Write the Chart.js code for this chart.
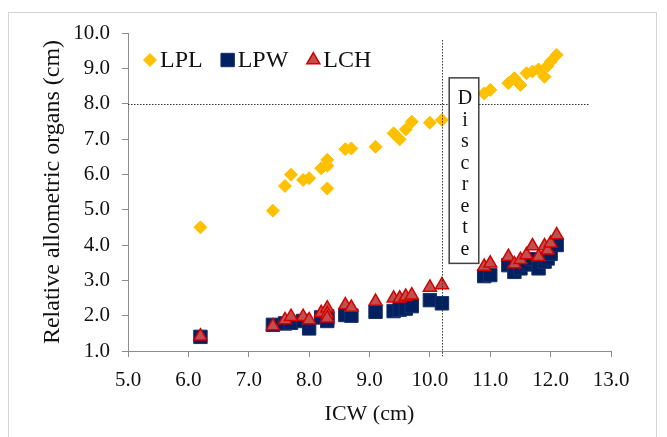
<!DOCTYPE html>
<html>
<head>
<meta charset="utf-8">
<title>ICW - relative allometric organs</title>
<script src="https://cdn.jsdelivr.net/npm/chart.js@4.4.0/dist/chart.umd.min.js"></script>
<style>
	body { margin: 0; background: #fff; }
	canvas { display: block; }
</style>
</head>
<body>
<canvas id="myChart" width="667" height="437"></canvas>
<script>
// values
const icw = [6.2, 7.4, 7.6, 7.7, 7.9, 8.0, 8.2, 8.3, 8.3, 8.3, 8.6, 8.7, 9.1, 9.4, 9.5, 9.6, 9.7, 10.0, 10.2, 10.9, 11.0, 11.3, 11.4, 11.5, 11.6, 11.7, 11.8, 11.9, 11.95, 12.0, 12.1];
const lpl = [4.50, 4.97, 5.67, 5.99, 5.84, 5.89, 6.17, 6.41, 6.24, 5.60, 6.71, 6.73, 6.78, 7.16, 6.99, 7.27, 7.49, 7.46, 7.54, 8.29, 8.39, 8.58, 8.72, 8.53, 8.86, 8.91, 8.97, 8.76, 9.07, 9.19, 9.38];
const lpw = [1.40, 1.74, 1.78, 1.80, 1.85, 1.64, 1.95, 1.92, 1.98, 1.85, 2.02, 2.00, 2.11, 2.13, 2.17, 2.20, 2.27, 2.44, 2.35, 3.12, 3.15, 3.43, 3.24, 3.34, 3.45, 3.60, 3.34, 3.53, 3.62, 3.75, 4.00];
const lch = [1.42, 1.71, 1.88, 1.97, 1.97, 1.88, 2.08, 2.21, 2.05, 1.93, 2.30, 2.23, 2.40, 2.49, 2.49, 2.54, 2.58, 2.80, 2.87, 3.39, 3.48, 3.67, 3.46, 3.58, 3.72, 3.97, 3.67, 3.97, 3.85, 4.05, 4.28];
const seriesNames = ["LPL", "LPW", "LCH"];
const xTicks = [5, 6, 7, 8, 9, 10, 11, 12, 13];
const yTicks = [1, 2, 3, 4, 5, 6, 7, 8, 9, 10];
const discreteLabel = "Discrete";

const pts = (ys) => icw.map((x, i) => ({ x: x, y: ys[i] }));

Chart.defaults.font.family = "'Liberation Serif', 'Times New Roman', serif";
Chart.defaults.color = "#111";

// ramka, przerywane linie, pole "Discrete" i legenda
const extras = {
	id: "extras",
	beforeDraw(chart) {
		const c = chart.ctx;
		c.save();
		c.strokeStyle = "#d4d4d4";
		c.lineWidth = 1;
		c.strokeRect(8.5, 12.5, 648, 440);
		c.restore();
	},
	afterDatasetsDraw(chart) {
		const c = chart.ctx, xs = chart.scales.x, ys = chart.scales.y;
		c.save();
		c.strokeStyle = "#333";
		c.lineWidth = 1;
		c.setLineDash([1.5, 1.5]);
		c.beginPath();
		c.moveTo(xs.getPixelForValue(5), Math.round(ys.getPixelForValue(8)) + 0.5);
		c.lineTo(xs.getPixelForValue(12.63), Math.round(ys.getPixelForValue(8)) + 0.5);
		c.moveTo(Math.round(xs.getPixelForValue(10.2)) + 0.5, ys.getPixelForValue(9.8));
		c.lineTo(Math.round(xs.getPixelForValue(10.2)) + 0.5, ys.getPixelForValue(0.85));
		c.stroke();
		c.setLineDash([]);
		// pole Discrete
		const bx0 = xs.getPixelForValue(10.32), bx1 = xs.getPixelForValue(10.81);
		const by0 = ys.getPixelForValue(8.73), by1 = ys.getPixelForValue(3.48);
		c.fillStyle = "#fff";
		c.fillRect(bx0, by0, bx1 - bx0, by1 - by0);
		c.strokeStyle = "#404040";
		c.lineWidth = 1.5;
		c.strokeRect(bx0, by0, bx1 - bx0, by1 - by0);
		c.fillStyle = "#111";
		c.font = "20px 'Liberation Serif'";
		c.textAlign = "center";
		c.textBaseline = "middle";
		const cx = (bx0 + bx1) / 2 + 1;
		for (let i = 0; i < discreteLabel.length; i++) {
			c.fillText(discreteLabel[i], cx, by0 + 21 + i * 21.5);
		}
		// legenda
		c.font = "24px 'Liberation Serif'";
		c.textAlign = "left";
		let lx = 150;
		const ly = 60;
		chart.data.datasets.forEach((ds) => {
			c.fillStyle = ds.backgroundColor;
			c.strokeStyle = ds.borderColor;
			c.lineWidth = ds.borderWidth;
			Chart.helpers.drawPoint(c, { pointStyle: ds.pointStyle, radius: ds.pointRadius, rotation: 0, borderWidth: ds.borderWidth }, lx, ly);
			c.fillStyle = "#111";
			c.fillText(ds.label, lx + 10, ly + 1);
			lx += 10 + c.measureText(ds.label).width + 25;
		});
		c.restore();
	}
};

new Chart(document.getElementById("myChart").getContext("2d"), {
	type: "scatter",
	data: {
		datasets: [{
			label: seriesNames[0],
			data: pts(lpl),
			pointStyle: "rectRot",
			pointRadius: 6.5,
			backgroundColor: "#FFC000",
			borderColor: "#FFC000",
			borderWidth: 1,
			order: 2
		}, {
			label: seriesNames[1],
			data: pts(lpw),
			pointStyle: "rect",
			pointRadius: 9.5,
			backgroundColor: "#002060",
			borderColor: "#17306b",
			borderWidth: 1,
			order: 1
		}, {
			label: seriesNames[2],
			data: pts(lch),
			pointStyle: "triangle",
			pointRadius: 7.5,
			backgroundColor: "#C0504D",
			borderColor: "#D40000",
			borderWidth: 1.5,
			order: 0
		}]
	},
	options: {
		responsive: false,
		animation: false,
		devicePixelRatio: 1,
		layout: { padding: { top: 33, right: 56, left: 0, bottom: 0 } },
		plugins: {
			legend: { display: false },
			tooltip: { enabled: false }
		},
		scales: {
			x: {
				type: "linear",
				min: 5,
				max: 13,
				afterBuildTicks: (s) => { s.ticks = xTicks.map(v => ({ value: v })); },
				afterFit: (s) => { s.height = 86; },
				ticks: { callback: (v) => v.toFixed(1), font: { size: 21 }, padding: 11, maxRotation: 0 },
				grid: { drawOnChartArea: false, tickLength: 6, color: "#8c8c8c" },
				border: { color: "#8c8c8c", width: 1 },
				title: { display: true, text: "ICW (cm)", font: { size: 22 }, padding: { bottom: 10 } }
			},
			y: {
				type: "linear",
				min: 1,
				max: 10,
				afterBuildTicks: (s) => { s.ticks = yTicks.map(v => ({ value: v })); },
				afterFit: (s) => { s.width = 128; },
				ticks: { callback: (v) => v.toFixed(1), font: { size: 21 }, padding: 12 },
				grid: { drawOnChartArea: false, tickLength: 6, color: "#8c8c8c" },
				border: { color: "#8c8c8c", width: 1 },
				title: { display: true, text: "Relative allometric organs (cm)", font: { size: 24 }, padding: { top: 38 } }
			}
		}
	},
	plugins: [extras]
});
</script>
</body>
</html>
